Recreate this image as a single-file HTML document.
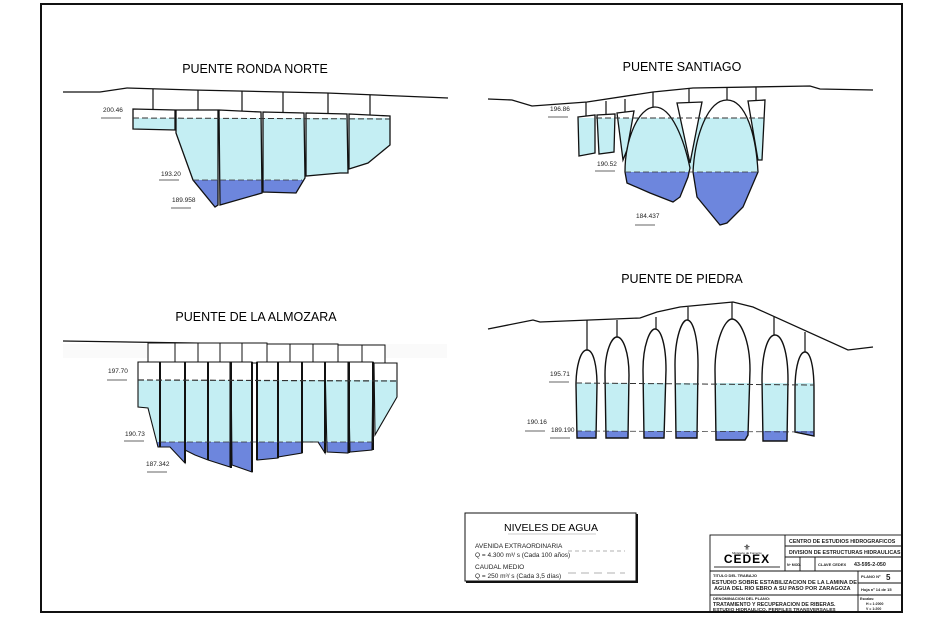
<!DOCTYPE html>
<html><head><meta charset="utf-8"><style>
html,body{margin:0;padding:0;background:#fff;}
svg{display:block;}
text{font-family:"Liberation Sans",sans-serif;}
.m{font-family:"Liberation Mono",monospace;font-weight:bold;}
</style></head><body>
<svg width="942" height="623" viewBox="0 0 942 623" xmlns="http://www.w3.org/2000/svg">
<defs>
<clipPath id="w1"><rect x="0" y="118" width="942" height="62"/></clipPath>
<clipPath id="d1"><rect x="0" y="180" width="942" height="100"/></clipPath>
<clipPath id="w2"><rect x="0" y="118" width="942" height="54"/></clipPath>
<clipPath id="d2"><rect x="0" y="172" width="942" height="100"/></clipPath>
<clipPath id="w3"><rect x="0" y="380" width="942" height="62"/></clipPath>
<clipPath id="d3"><rect x="0" y="442" width="942" height="60"/></clipPath>
<clipPath id="w4"><rect x="0" y="383" width="942" height="48"/></clipPath>
<clipPath id="d4"><rect x="0" y="431" width="942" height="30"/></clipPath>
<path id="rnb" d="M133,109 L175,110 L175,130 L133,129 Z M176,110 L218,110 L218,205 L215,207 L193,180 L176,133 Z M219,110 L261,112 L262,193 L220,205 Z M263,112 L304,113 L305,178 L296,193 L263,192 Z M306,113 L347,114 L348,173 L340,173 L306,176 Z M349,114 L390,116 L390,145 L368,163 L349,169 Z"/>
<path id="sa" d="M578,117 L595,115 L595,153 L579,156 Z M597,115 L615,114 L614,152 L599,154 Z M617,113 L634,111 L627,150 L623,160 Z M625,172 C625,140 638,107 655,107 C672,107 684,140 690,168 L688,177 L680,197 L673,202 L650,193 L627,183 Z M693,172 C695,135 708,100 727,100 C746,100 756,135 758,172 L743,207 L727,223 L720,225 L697,197 Z M748,101 L765,100 L762,160 L758,160 Z"/>
<path id="sabg" d="M634,118 L690,168 L693,170 L748,118 Z"/>
<path id="al" d="M138,362 L160,362 L160,447 L158,447 L148,408 L138,407 Z M160,362 L185,362 L185,463 L170,447 L160,447 Z M185,362 L208,362 L208,460 L195,455 L185,450 Z M208,362 L230,362 L230,467 L208,460 Z M231,362 L252,362 L252,472 L232,465 Z M257,362 L278,362 L278,458 L257,460 Z M278,362 L302,362 L302,453 L278,457 Z M302,362 L325,362 L325,453 L318,442 L302,442 Z M325,362 L348,362 L348,453 L327,452 Z M348,362 L373,362 L372,450 L350,452 Z M374,363 L397,363 L397,397 L375,435 Z"/>
<path id="pd" d="M577,438 L576,385 C576,368 580,350 587,350 C594,350 597,368 597,385 L596,438 Z M606,438 L605,375 C605,350 612,337 617,337 C623,337 629,352 629,375 L628,438 Z M644,438 L643,370 C643,345 650,329 655,329 C661,329 666,345 666,370 L664,438 Z M676,438 L675,365 C675,337 682,320 687,320 C693,320 698,337 698,365 L697,438 Z M716,440 L715,370 C715,340 725,319 732,319 C740,319 750,340 750,370 L748,435 L745,440 Z M763,441 L762,380 C762,352 768,335 775,335 C782,335 788,352 788,380 L787,441 Z M795,432 L795,390 C795,365 800,352 805,352 C810,352 814,365 814,390 L814,436 Z"/>
</defs>
<path d="M41,4 L902,4 L902,612 L41,612 Z" fill="none" stroke="#111" stroke-width="2"/>

<!-- RONDA NORTE -->
<text x="255" y="73" font-size="12.5" text-anchor="middle">PUENTE RONDA NORTE</text>
<polyline points="63,92 100,92 127,88 193,90 327,93 448,98" fill="none" stroke="#111" stroke-width="1.3"/>
<g stroke="#111" stroke-width="1.2"><line x1="153" y1="89" x2="153" y2="109"/><line x1="198" y1="90" x2="198" y2="110"/><line x1="242" y1="91" x2="242" y2="111"/><line x1="283" y1="92" x2="283" y2="112"/><line x1="328" y1="93" x2="328" y2="113"/><line x1="370" y1="95" x2="370" y2="115"/></g>
<use href="#rnb" fill="#fff"/>
<use href="#rnb" fill="#c4eef3" clip-path="url(#w1)"/>
<use href="#rnb" fill="#6d86dd" clip-path="url(#d1)"/>
<use href="#rnb" fill="none" stroke="#111" stroke-width="1.3"/>
<line x1="133" y1="118" x2="390" y2="119" stroke="#333" stroke-dasharray="6,3"/>
<line x1="193" y1="180" x2="302" y2="180" stroke="#333" stroke-dasharray="6,3" stroke-width="0.7"/>
<g font-size="6.5" fill="#222"><text x="103" y="112">200.46</text><text x="161" y="176">193.20</text><text x="172" y="202">189.958</text></g>
<g stroke="#333" stroke-width="0.7"><line x1="101" y1="118" x2="121" y2="118"/><line x1="159" y1="180" x2="179" y2="180"/><line x1="171" y1="208" x2="191" y2="208"/></g>

<!-- SANTIAGO -->
<text x="682" y="71" font-size="12.5" text-anchor="middle">PUENTE SANTIAGO</text>
<polyline points="488,99 512,100 532,106 587,102 653,92 693,88 810,86 820,89 873,90" fill="none" stroke="#111" stroke-width="1.3"/>
<g stroke="#111" stroke-width="1.2"><line x1="586" y1="102" x2="586" y2="116"/><line x1="606" y1="101" x2="606" y2="115"/><line x1="625" y1="99" x2="625" y2="112"/><line x1="653" y1="92" x2="653" y2="107"/><line x1="689" y1="89" x2="689" y2="102"/><line x1="727" y1="87" x2="727" y2="100"/><line x1="756" y1="87" x2="756" y2="100"/></g>
<use href="#sabg" fill="#c4eef3" clip-path="url(#w2)"/>
<use href="#sa" fill="#fff"/>
<use href="#sa" fill="#c4eef3" clip-path="url(#w2)"/>
<use href="#sa" fill="#6d86dd" clip-path="url(#d2)"/>
<path d="M677,103 L702,102 L690,163 Z" fill="#fff"/>
<use href="#sa" fill="none" stroke="#111" stroke-width="1.3"/>
<path d="M677,103 L702,102 L690,163 Z" fill="none" stroke="#111" stroke-width="1.3"/>
<line x1="596" y1="118" x2="765" y2="118" stroke="#333" stroke-dasharray="6,3"/>
<line x1="625" y1="172" x2="758" y2="172" stroke="#333" stroke-dasharray="6,3" stroke-width="0.7"/>
<g font-size="6.5" fill="#222"><text x="550" y="111">196.86</text><text x="597" y="166">190.52</text><text x="636" y="218">184.437</text></g>
<g stroke="#333" stroke-width="0.7"><line x1="548" y1="117" x2="568" y2="117"/><line x1="595" y1="171" x2="615" y2="171"/><line x1="635" y1="225" x2="655" y2="225"/></g>

<!-- ALMOZARA -->
<text x="256" y="321" font-size="12.5" text-anchor="middle">PUENTE DE LA ALMOZARA</text>
<polyline points="63,341 193,343 447,347" fill="none" stroke="#111" stroke-width="1.3"/>
<rect x="63" y="344" width="384" height="14" fill="#fafafa"/>
<g fill="#fff" stroke="#111" stroke-width="1"><rect x="148" y="343" width="27" height="20"/><rect x="175" y="343" width="23" height="20"/><rect x="198" y="343" width="22" height="20"/><rect x="220" y="343" width="22" height="20"/><rect x="242" y="343" width="25" height="20"/><rect x="267" y="344" width="23" height="19"/><rect x="290" y="344" width="23" height="19"/><rect x="313" y="344" width="25" height="19"/><rect x="338" y="345" width="24" height="19"/><rect x="362" y="345" width="23" height="19"/></g>
<use href="#al" fill="#fff"/>
<use href="#al" fill="#c4eef3" clip-path="url(#w3)"/>
<use href="#al" fill="#6d86dd" clip-path="url(#d3)"/>
<use href="#al" fill="none" stroke="#111" stroke-width="1.1"/>
<g stroke="#111" stroke-width="2"><line x1="160" y1="362" x2="160" y2="447"/><line x1="185" y1="362" x2="185" y2="463"/><line x1="208" y1="362" x2="208" y2="460"/><line x1="231" y1="362" x2="231" y2="468"/><line x1="252" y1="362" x2="252" y2="472"/><line x1="257" y1="362" x2="257" y2="460"/><line x1="278" y1="362" x2="278" y2="458"/><line x1="302" y1="362" x2="302" y2="453"/><line x1="325" y1="362" x2="325" y2="453"/><line x1="349" y1="362" x2="349" y2="453"/><line x1="373" y1="362" x2="373" y2="450"/></g>
<line x1="138" y1="380" x2="397" y2="381" stroke="#333" stroke-dasharray="6,3" stroke-width="1.2"/>
<line x1="160" y1="442" x2="373" y2="442" stroke="#333" stroke-dasharray="6,3" stroke-width="0.7"/>
<g font-size="6.5" fill="#222"><text x="108" y="373">197.70</text><text x="125" y="436">190.73</text><text x="146" y="466">187.342</text></g>
<g stroke="#333" stroke-width="0.7"><line x1="107" y1="380" x2="127" y2="380"/><line x1="124" y1="441" x2="144" y2="441"/><line x1="147" y1="472" x2="167" y2="472"/></g>

<!-- PIEDRA -->
<text x="682" y="283" font-size="12.5" text-anchor="middle">PUENTE DE PIEDRA</text>
<polyline points="488,329 533,320 540,322 640,318 657,312 680,307 733,302 753,307 848,350 873,347" fill="none" stroke="#111" stroke-width="1.3"/>
<g stroke="#111" stroke-width="1.2"><line x1="587" y1="320" x2="587" y2="350"/><line x1="617" y1="320" x2="617" y2="337"/><line x1="656" y1="317" x2="656" y2="329"/><line x1="688" y1="307" x2="688" y2="320"/><line x1="732" y1="302" x2="732" y2="319"/><line x1="774" y1="317" x2="774" y2="335"/><line x1="805" y1="332" x2="805" y2="352"/></g>
<use href="#pd" fill="#fff"/>
<use href="#pd" fill="#c4eef3" clip-path="url(#w4)"/>
<use href="#pd" fill="#6d86dd" clip-path="url(#d4)"/>
<use href="#pd" fill="none" stroke="#111" stroke-width="1.4"/>
<line x1="576" y1="383" x2="814" y2="385" stroke="#333" stroke-dasharray="6,3"/>
<line x1="576" y1="431" x2="814" y2="432" stroke="#333" stroke-dasharray="6,3" stroke-width="0.7"/>
<g font-size="6.5" fill="#222"><text x="550" y="376">195.71</text><text x="527" y="424">190.16</text><text x="551" y="432">189.190</text></g>
<g stroke="#333" stroke-width="0.7"><line x1="549" y1="382" x2="569" y2="382"/><line x1="525" y1="431" x2="545" y2="431"/><line x1="550" y1="438" x2="570" y2="438"/></g>

<!-- legend -->
<rect x="465" y="513" width="171" height="68" fill="#fff" stroke="#111" stroke-width="1"/>
<path d="M637,514 L637,582 L466,582" fill="none" stroke="#111" stroke-width="2"/>
<text x="551" y="531" font-size="10.5" text-anchor="middle">NIVELES DE AGUA</text>
<line x1="508" y1="534" x2="596" y2="534" stroke="#999" stroke-width="0.6"/>
<g font-size="6.5" fill="#222"><text x="475" y="548">AVENIDA EXTRAORDINARIA</text><text x="475" y="557">Q =  4.300 m³/ s (Cada 100 años)</text><text x="475" y="569">CAUDAL MEDIO</text><text x="475" y="578">Q =  250 m³/ s (Cada 3,5 días)</text></g>
<line x1="568" y1="551" x2="625" y2="551" stroke="#999" stroke-dasharray="4,3" stroke-width="0.7"/>
<line x1="568" y1="573" x2="625" y2="573" stroke="#999" stroke-dasharray="8,5" stroke-width="0.7"/>

<!-- title block -->
<g fill="none" stroke="#111" stroke-width="0.9">
<rect x="710" y="535" width="192" height="77"/>
<line x1="785" y1="535" x2="785" y2="571"/>
<line x1="785" y1="546" x2="902" y2="546"/>
<line x1="785" y1="557" x2="902" y2="557"/>
<line x1="710" y1="571" x2="902" y2="571"/>
<line x1="800" y1="557" x2="800" y2="571"/>
<line x1="815" y1="557" x2="815" y2="571"/>
<line x1="710" y1="595" x2="902" y2="595"/>
<line x1="858" y1="571" x2="858" y2="612"/>
<line x1="858" y1="583" x2="902" y2="583"/>
</g>
<text x="747" y="563" font-size="12" font-weight="bold" text-anchor="middle" letter-spacing="1">CEDEX</text>
<text x="747" y="550" font-size="8" text-anchor="middle">⚜</text>
<text x="747" y="554" font-size="3" text-anchor="middle">Ministerio de Fomento</text>
<line x1="714" y1="567" x2="780" y2="567" stroke="#333" stroke-width="1"/>
<g class="m" fill="#222" font-size="5.3">
<text x="789" y="543">CENTRO DE ESTUDIOS HIDROGRAFICOS</text>
<text x="789" y="554">DIVISION DE ESTRUCTURAS HIDRAULICAS</text>
<text x="787" y="566" font-size="3.5">Nº MOD.</text>
<text x="818" y="566" font-size="4">CLAVE CEDEX</text>
<text x="854" y="566">43-595-2-050</text>
<text x="713" y="577" font-size="4">TITULO DEL TRABAJO</text>
<text x="712" y="584" font-size="5.6">ESTUDIO SOBRE ESTABILIZACION DE LA LAMINA DE</text>
<text x="714" y="590" font-size="5.6">AGUA DEL RIO EBRO A SU PASO POR ZARAGOZA</text>
<text x="861" y="578" font-size="4">PLANO Nº</text><text x="886" y="580" font-size="8">5</text>
<text x="861" y="591" font-size="4">Hoja nº 14 de 15</text>
<text x="713" y="600" font-size="4">DENOMINACION DEL PLANO:</text>
<text x="713" y="606">TRATAMIENTO Y RECUPERACION DE RIBERAS.</text>
<text x="713" y="611" font-size="4.8">ESTUDIO HIDRAULICO. PERFILES TRANSVERSALES</text>
<text x="860" y="600" font-size="3.5">Escalas:</text>
<text x="866" y="605" font-size="3.5">H = 1:2000</text>
<text x="866" y="610" font-size="3.5">V = 1:200</text>
</g>
</svg>
</body></html>
